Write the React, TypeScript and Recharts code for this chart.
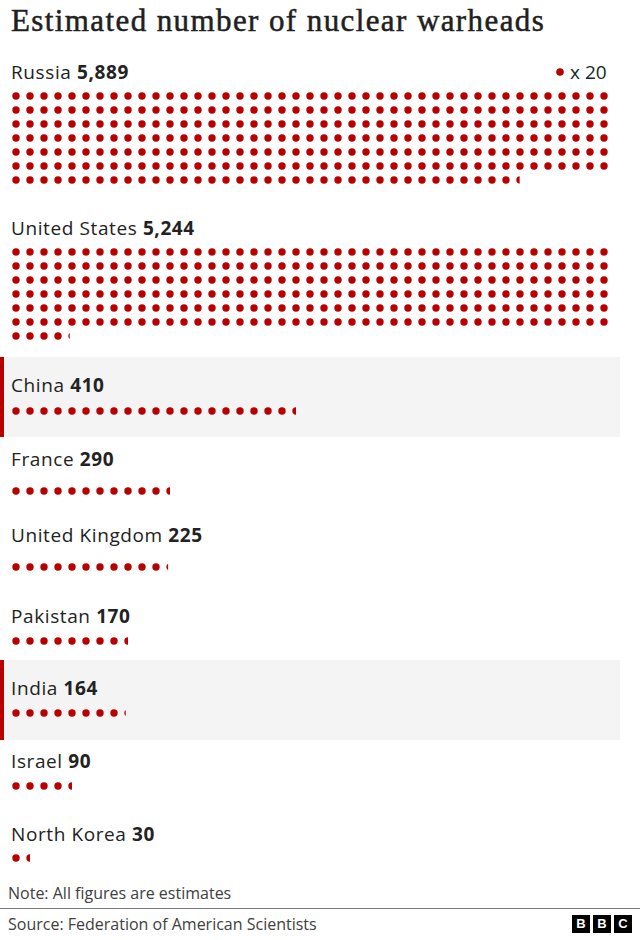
import React from 'react';
import { ScatterChart, Scatter, XAxis, YAxis } from 'recharts';

const countries = ['Russia', 'United States', 'China', 'France', 'United Kingdom', 'Pakistan', 'India', 'Israel', 'North Korea'];
const warheads = [5889, 5244, 410, 290, 225, 170, 164, 90, 30];
// what the dots show in the graphic (France's row is drawn shorter than its label)
const drawnWarheads = [5889, 5244, 410, 230, 225, 170, 164, 90, 30];
const highlighted = ['China', 'India'];
const perDot = 20;
const dotsPerRow = 43;

// layout, page pixels
const labelMid = [72, 228, 385, 458.5, 534.5, 615.5, 688, 761, 834];
const firstRowMid = [96, 252.3, 411, 491, 566.5, 640.5, 713, 786, 858];
const ROW = 14;
const RED = '#b80000';
const INK = '#222222';
const SANS = '"Open Sans", sans-serif';

type Pt = { col: number; row: number; frac: number };

function dotsFor(value: number): Pt[] {
  const n = value / perDot;
  const pts: Pt[] = [];
  for (let i = 0; i < Math.ceil(n); i++) {
    pts.push({ col: i % dotsPerRow, row: Math.floor(i / dotsPerRow), frac: Math.min(1, n - i) });
  }
  return pts;
}

const Dot = (props: any) => {
  const { cx, cy, payload } = props;
  const r = 3.7;
  const f = payload.frac;
  if (f >= 1) return <circle cx={cx} cy={cy} r={r} fill={RED} />;
  // partial dot: left part of the circle cut at a vertical chord
  const x = cx - r + 2 * r * f;
  const dx = x - cx;
  const h = Math.sqrt(Math.max(0, r * r - dx * dx));
  const large = f > 0.5 ? 1 : 0;
  return <path d={`M${x},${cy - h} A${r},${r} 0 ${large} 0 ${x},${cy + h} Z`} fill={RED} />;
};

function DotRow({ value }: { value: number }) {
  const pts = dotsFor(value);
  const rows = Math.max(...pts.map((p) => p.row)) + 1;
  return (
    <ScatterChart width={640} height={rows * ROW} margin={{ top: 0, right: 29, bottom: 0, left: 9 }}>
      <XAxis type="number" dataKey="col" domain={[-0.5, dotsPerRow - 0.5]} hide />
      <YAxis type="number" dataKey="row" domain={[-0.5, rows - 0.5]} reversed hide />
      <Scatter data={pts} shape={Dot} isAnimationActive={false} />
    </ScatterChart>
  );
}

export default function App() {
  return (
    <div style={{ position: 'absolute', left: 0, top: 0, width: 640, height: 940, background: '#fff', fontFamily: SANS, color: INK, overflow: 'hidden' }}>
      <div style={{ position: 'absolute', left: 11, top: 2, fontFamily: '"Liberation Serif", serif', fontSize: 31, lineHeight: '38px', letterSpacing: 1.4, WebkitTextStroke: '0.5px #202020', color: '#202020', whiteSpace: 'nowrap' }}>
        Estimated number of nuclear warheads
      </div>

      {/* legend */}
      <svg style={{ position: 'absolute', left: 554, top: 66 }} width={12} height={12}>
        <circle cx={6} cy={6} r={3.8} fill={RED} />
      </svg>
      <div style={{ position: 'absolute', left: 570, top: 59, fontSize: 19, lineHeight: '26px', color: '#0f2b2b' }}>x 20</div>

      {countries.map((c, i) => {
        const band = highlighted.includes(c);
        return (
          <React.Fragment key={c}>
            {band && (
              <div style={{ position: 'absolute', left: 0, top: labelMid[i] - 28, width: 620, height: 80, background: '#f4f4f4' }}>
                <div style={{ position: 'absolute', left: 0, top: 0, width: 4, height: 80, background: RED }} />
              </div>
            )}
            <div style={{ position: 'absolute', left: 11, top: labelMid[i] - 13, fontSize: 19, letterSpacing: 0.6, lineHeight: '26px', whiteSpace: 'nowrap' }}>
              {c} <b style={{ fontWeight: 700 }}>{warheads[i].toLocaleString('en-US')}</b>
            </div>
            <div style={{ position: 'absolute', left: 0, top: firstRowMid[i] - ROW / 2 }}>
              <DotRow value={drawnWarheads[i]} />
            </div>
          </React.Fragment>
        );
      })}

      <div style={{ position: 'absolute', left: 8, top: 882, fontSize: 16, lineHeight: '22px', color: '#404040' }}>Note: All figures are estimates</div>
      <div style={{ position: 'absolute', left: 0, top: 908, width: 640, height: 1, background: '#7a7a7a' }} />
      <div style={{ position: 'absolute', left: 8, top: 913, fontSize: 16, lineHeight: '22px', color: '#404040' }}>Source: Federation of American Scientists</div>
      <div style={{ position: 'absolute', left: 572, top: 915, display: 'flex', gap: 3 }}>
        {['B', 'B', 'C'].map((l, k) => (
          <div key={k} style={{ width: 18, height: 18, background: '#000', color: '#fff', fontFamily: '"Liberation Sans", sans-serif', fontWeight: 700, fontSize: 13, lineHeight: '18px', textAlign: 'center' }}>{l}</div>
        ))}
      </div>
    </div>
  );
}
